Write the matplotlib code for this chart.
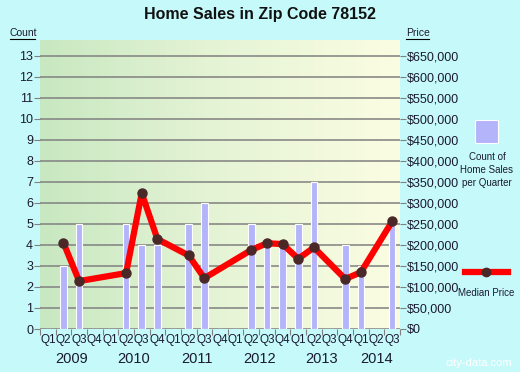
import numpy as np
import matplotlib
matplotlib.use("Agg")
import matplotlib.pyplot as plt
from matplotlib.colors import LinearSegmentedColormap

plt.rcParams['font.family'] = ['Liberation Sans', 'DejaVu Sans']

# data: 2009 Q1 .. 2014 Q3
quarters = ['Q1', 'Q2', 'Q3', 'Q4'] * 5 + ['Q1', 'Q2', 'Q3']
years = ['2009', '2010', '2011', '2012', '2013', '2014']
year_len = [4, 4, 4, 4, 4, 3]
counts = [0, 3, 5, 0, 0, 5, 4, 4, 0, 5, 6, 0, 0, 5, 4, 4, 5, 7, 0, 4, 3, 0, 5]
prices = [None, 205000, 114000, None, None, 133000, 323000, 214000,
          None, 175000, 121000, None, None, 188000, 204000, 202000,
          167000, 194000, None, 119000, 135000, None, 256000]

n = len(quarters)
x = np.arange(n) + 0.5
bg = '#c6fafa'
txt = '#1a1a30'

fig = plt.figure(figsize=(5.2, 3.72), dpi=100, facecolor=bg)
ax = fig.add_axes([40/520, 1 - 329/372, 360/520, 289/372])
ax.set_xlim(0, n)
ax.set_ylim(0, 13.75)

# gradient background
cmap = LinearSegmentedColormap.from_list('bg', ['#c8e8c1', '#e6f4d6', '#fbfde2'])
grad = np.linspace(0, 1, 256).reshape(1, -1)
ax.imshow(grad, cmap=cmap, extent=[0, 1, 0, 1], transform=ax.transAxes,
          aspect='auto', zorder=0)

for yv in range(0, 14):
    ax.axhline(yv, color='#808080', lw=1.1, zorder=1)

ax.bar(x, counts, width=0.42, color='#b4b4fa', edgecolor='white', lw=0.8, zorder=2)

px = [xi for xi, p in zip(x, prices) if p is not None]
py = [p / 50000 for p in prices if p is not None]
ax.plot(px, py, color='#ff0000', lw=4.5, zorder=3, solid_joinstyle='round',
        solid_capstyle='round')
ax.plot(px, py, 'o', color='#4a2828', ms=6.5, zorder=4)

for s in ax.spines.values():
    s.set_visible(False)

ax.set_yticks(range(0, 14))
ax.set_yticklabels([str(v) for v in range(0, 14)], fontsize=9, color=txt)
ax.tick_params(axis='y', length=4, color='#808080', pad=1)

ax.set_xticks(np.arange(n + 1))
ax.set_xticklabels([])
ax.tick_params(axis='x', length=4, color='#808080')
for xi, q in zip(x, quarters):
    ax.text(xi, -0.25, q, ha='center', va='top', fontsize=8.5, color=txt, clip_on=False)

start = 0
for yr, ln in zip(years, year_len):
    ax.text(start + ln / 2, -1.1, yr, ha='center', va='top', fontsize=10.5,
            color=txt, clip_on=False)
    start += ln

ax2 = ax.twinx()
ax2.set_ylim(0, 13.75 * 50000)
ax2.set_yticks(np.arange(0, 650001, 50000))
ax2.set_yticklabels(['$' + format(v, ',') for v in range(0, 650001, 50000)],
                    fontsize=9, color=txt)
ax2.tick_params(axis='y', length=4, color='#808080', pad=1)
for s in ax2.spines.values():
    s.set_visible(False)

fig.text(0.5, 0.962, 'Home Sales in Zip Code 78152', ha='center', va='center',
         fontsize=11.5, fontweight='bold', color='#111111')
fig.text(10/520, 1 - 33/372, 'Count', fontsize=7.5, color=txt, ha='left', va='center')
fig.text(406/520, 1 - 33/372, 'Price', fontsize=7.5, color=txt, ha='left', va='center')
# underline
fig.add_artist(plt.Line2D([10/520, 35/520], [1 - 39/372] * 2, color='black', lw=0.8))
fig.add_artist(plt.Line2D([406/520, 429/520], [1 - 39/372] * 2, color='black', lw=0.8))

# legend
fig.patches.append(plt.Rectangle((475/520, 1 - 143/372), 23/520, 23/372,
                                 transform=fig.transFigure, facecolor='#b4b4fa',
                                 edgecolor='white', lw=0.8))
fig.text(487/520, 1 - 170/372, 'Count of\nHome Sales\nper Quarter', ha='center',
         va='center', fontsize=7, color=txt, linespacing=1.35)
fig.add_artist(plt.Line2D([465/520, 508/520], [1 - 272/372] * 2, color='#ff0000', lw=4.5))
fig.add_artist(plt.Line2D([486/520], [1 - 272/372], marker='o', color='#4a2828', ms=6))
fig.text(486/520, 1 - 293/372, 'Median Price', ha='center', va='center',
         fontsize=7, color=txt)

fig.text(512/520, 1 - 363/372, 'city-data.com', ha='right', va='center',
         fontsize=8, color='white')

fig.savefig('out.png', dpi=100, facecolor=bg)
